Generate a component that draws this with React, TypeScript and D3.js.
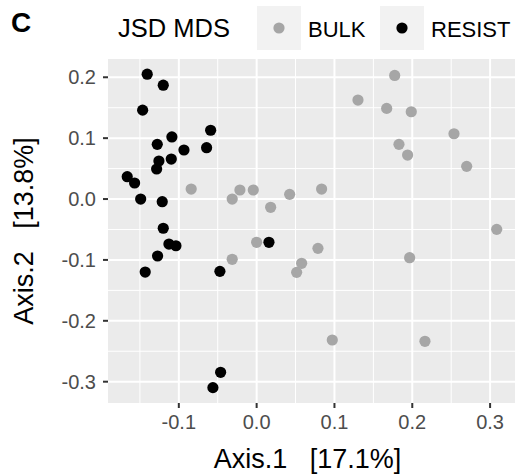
import React from "react";
import * as d3 from "d3";

const bulkX = [-0.0841, -0.0314, -0.0215, -0.0043, 0.0424, 0.018, 0.0, -0.0314, 0.0578, 0.0514, 0.1774, 0.1302, 0.1671, 0.1987, 0.2536, 0.1829, 0.194, 0.2699, 0.0835, 0.3085, 0.0788, 0.1966, 0.0972, 0.2163];
const bulkY = [0.0164, 0.0, 0.0148, 0.0148, 0.0077, -0.0136, -0.0711, -0.099, -0.1056, -0.1204, 0.203, 0.1626, 0.1489, 0.1434, 0.1072, 0.0898, 0.0722, 0.0537, 0.0164, -0.0498, -0.081, -0.0963, -0.2315, -0.2337];
const resistX = [-0.1406, -0.12, -0.1465, -0.0591, -0.1089, -0.1277, -0.0934, -0.0643, -0.1256, -0.1097, -0.1285, -0.1663, -0.1568, -0.149, -0.1213, -0.12, -0.1127, -0.1037, -0.1273, -0.1432, -0.0472, 0.0158, -0.0463, -0.0562];
const resistY = [0.205, 0.187, 0.146, 0.113, 0.102, 0.0898, 0.0805, 0.0843, 0.0624, 0.0657, 0.0493, 0.0367, 0.0263, 0.0, -0.0044, -0.048, -0.0739, -0.0767, -0.0936, -0.1199, -0.1188, -0.0711, -0.2846, -0.3098];

const xTicks = [-0.1, 0.0, 0.1, 0.2, 0.3];
const yTicks = [0.2, 0.1, 0.0, -0.1, -0.2, -0.3];
const xMinor = [-0.15, -0.05, 0.05, 0.15, 0.25];
const yMinor = [0.15, 0.05, -0.05, -0.15, -0.25];

const groups = [
  { name: "BULK", color: "#A6A6A6", xs: bulkX, ys: bulkY },
  { name: "RESIST", color: "#000000", xs: resistX, ys: resistY },
];

const FONT = "'Liberation Sans', Arial, Helvetica, sans-serif";

export default function App() {
  const W = 518, H = 476;
  const L = 108, R = 515, T = 59, B = 403;
  const x = d3.scaleLinear().domain([-0.191, 0.332]).range([L, R]);
  const y = d3.scaleLinear().domain([-0.335, 0.23]).range([B, T]);
  const f = d3.format(".1f");
  const fmt = (v: number) => f(v).replace("\u2212", "-");
  const r = 5.6;

  return (
    <svg width={W} height={H} style={{ position: "absolute", left: 0, top: 0 }} fontFamily={FONT}>
      <rect x={0} y={0} width={W} height={H} fill="#fff" />
      <rect x={L} y={T} width={R - L} height={B - T} fill="#EBEBEB" />
      {xMinor.map((v) => (
        <line key={"xm" + v} x1={x(v)} x2={x(v)} y1={T} y2={B} stroke="#fff" strokeWidth={1} />
      ))}
      {yMinor.map((v) => (
        <line key={"ym" + v} x1={L} x2={R} y1={y(v)} y2={y(v)} stroke="#fff" strokeWidth={1} />
      ))}
      {xTicks.map((v) => (
        <line key={"xg" + v} x1={x(v)} x2={x(v)} y1={T} y2={B} stroke="#fff" strokeWidth={2} />
      ))}
      {yTicks.map((v) => (
        <line key={"yg" + v} x1={L} x2={R} y1={y(v)} y2={y(v)} stroke="#fff" strokeWidth={2} />
      ))}
      {groups.map((g) =>
        g.xs.map((xv, i) => (
          <circle key={g.name + i} cx={x(xv)} cy={y(g.ys[i])} r={r} fill={g.color} />
        ))
      )}
      {xTicks.map((v) => (
        <g key={"xt" + v}>
          <line x1={x(v)} x2={x(v)} y1={B} y2={B + 5} stroke="#333" strokeWidth={2} />
          <text x={x(v)} y={B + 26} textAnchor="middle" fontSize={20} fill="#4D4D4D">
            {fmt(v)}
          </text>
        </g>
      ))}
      {yTicks.map((v) => (
        <g key={"yt" + v}>
          <line x1={L - 5} x2={L} y1={y(v)} y2={y(v)} stroke="#333" strokeWidth={2} />
          <text x={L - 12} y={y(v) + 7} textAnchor="end" fontSize={20} fill="#4D4D4D">
            {fmt(v)}
          </text>
        </g>
      ))}
      <text x={(L + R) / 2 - 4} y={468} textAnchor="middle" fontSize={27} fill="#000" xmlSpace="preserve">
        {"Axis.1   [17.1%]"}
      </text>
      <text
        transform={`translate(33, ${(T + B) / 2}) rotate(-90)`}
        textAnchor="middle"
        fontSize={27}
        fill="#000"
        xmlSpace="preserve"
      >
        {"Axis.2   [13.8%]"}
      </text>
      <text x={11} y={32} fontSize={28} fontWeight="bold" fill="#000">C</text>
      <text x={118} y={37} fontSize={25.5} fill="#000">JSD MDS</text>
      {groups.map((g, i) => {
        const kx = 257 + i * 123;
        return (
          <g key={"lg" + g.name}>
            <rect x={kx} y={6} width={44} height={44} fill="#F2F2F2" />
            <circle cx={kx + 22} cy={28} r={r} fill={g.color} />
            <text x={kx + 51} y={37} fontSize={22} fill="#000">{g.name}</text>
          </g>
        );
      })}
    </svg>
  );
}
